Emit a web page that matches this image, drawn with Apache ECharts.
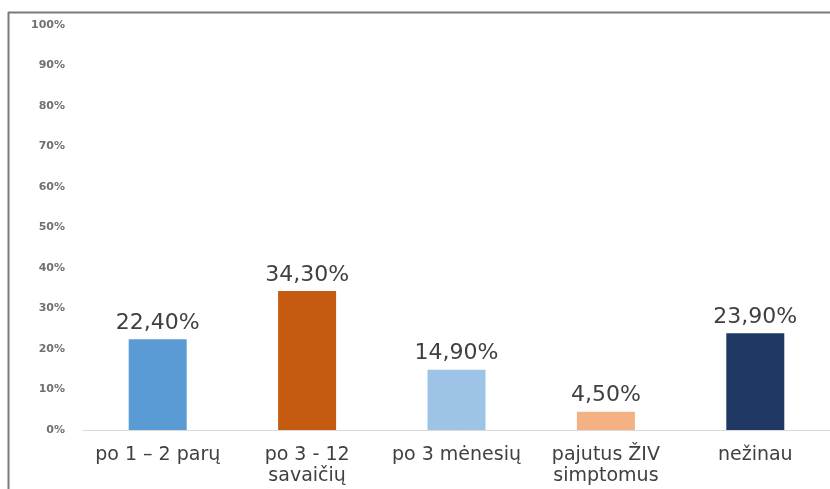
<!DOCTYPE html>
<html>
<head>
<meta charset="utf-8">
<script src="https://cdn.jsdelivr.net/npm/echarts@6/dist/echarts.min.js"></script>
<style>
  html, body { margin: 0; padding: 0; background: #ffffff; }
  #chart { width: 830px; height: 489px; }
</style>
</head>
<body>
<div id="chart"></div>
<script>
// Categories, values (percent) and bar colours
const categories = ['po 1 – 2 parų', 'po 3 - 12\nsavaičių', 'po 3 mėnesių', 'pajutus ŽIV\nsimptomus', 'nežinau'];
const values = [22.4, 34.3, 14.9, 4.5, 23.9];
const barColors = ['#5B9BD5', '#C55A11', '#9DC3E6', '#F4B183', '#203864'];
const yTicks = [0, 10, 20, 30, 40, 50, 60, 70, 80, 90, 100];

const chart = echarts.init(document.getElementById('chart'), null, { renderer: 'canvas' });

const fmtPct = v => v.toFixed(2).replace('.', ',') + '%';

chart.setOption({
  animation: false,
  backgroundColor: '#ffffff',
  grid: { left: 83, right: 0, top: 25, bottom: 59, containLabel: false },
  xAxis: {
    type: 'category',
    data: categories,
    axisLine: { show: true, lineStyle: { color: '#d9d9d9', width: 1 } },
    axisTick: { show: false },
    axisLabel: {
      color: '#404040',
      fontFamily: 'DejaVu Sans',
      fontSize: 19,
      lineHeight: 21,
      margin: 15,
      interval: 0
    }
  },
  yAxis: {
    type: 'value',
    min: yTicks[0],
    max: yTicks[yTicks.length - 1],
    interval: 10,
    axisLine: { show: false },
    axisTick: { show: false },
    splitLine: { show: false },
    axisLabel: {
      color: '#707070',
      fontFamily: 'DejaVu Sans',
      fontWeight: 'bold',
      fontSize: 11,
      margin: 18,
      formatter: v => v + '%'
    }
  },
  series: [{
    type: 'bar',
    data: values.map((v, i) => ({ value: v, itemStyle: { color: barColors[i] } })),
    barWidth: 58,
    label: {
      show: true,
      position: 'top',
      distance: 5,
      color: '#404040',
      fontFamily: 'DejaVu Sans',
      fontSize: 22,
      formatter: p => fmtPct(p.value)
    }
  }],
  graphic: [
    // outer frame: left and top edges
    { type: 'line', shape: { x1: 8.5, y1: 12, x2: 8.5, y2: 489 }, style: { stroke: '#7a7a7a', lineWidth: 2 } },
    { type: 'line', shape: { x1: 8, y1: 12.5, x2: 830, y2: 12.5 }, style: { stroke: '#7a7a7a', lineWidth: 2 } }
  ]
});
</script>
</body>
</html>
